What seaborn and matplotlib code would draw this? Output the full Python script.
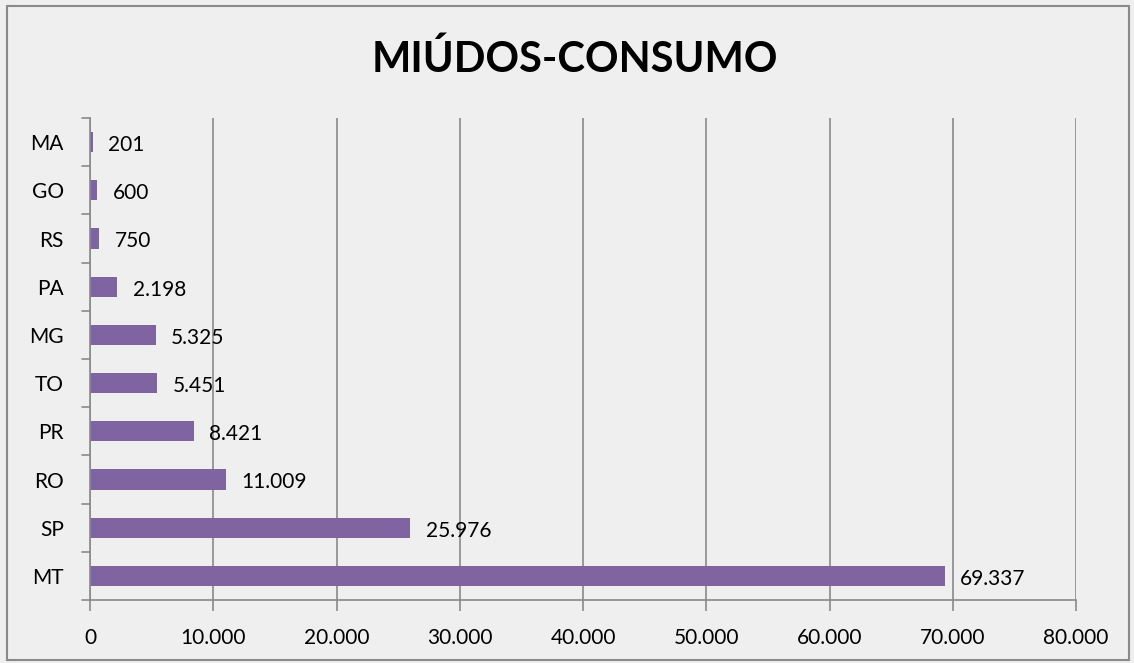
import matplotlib
matplotlib.use("Agg")
import matplotlib.pyplot as plt
import seaborn as sns
import pandas as pd
from matplotlib.patches import Rectangle

estados = ["MA", "GO", "RS", "PA", "MG", "TO", "PR", "RO", "SP", "MT"]
consumo = [201, 600, 750, 2198, 5325, 5451, 8421, 11009, 25976, 69337]
rotulos = ["201", "600", "750", "2.198", "5.325", "5.451", "8.421", "11.009", "25.976", "69.337"]
x_ticks = [0, 10000, 20000, 30000, 40000, 50000, 60000, 70000, 80000]
x_tick_labels = ["0", "10.000", "20.000", "30.000", "40.000", "50.000", "60.000", "70.000", "80.000"]
titulo = "MIÚDOS-CONSUMO"

df = pd.DataFrame({"estado": estados, "consumo": consumo})

sns.set_theme(style="white")
plt.rcParams["font.family"] = ["Lato", "DejaVu Sans"]
plt.rcParams["text.color"] = "black"

bg = "#efefef"
grid_c = "#8a8a8a"
bar_c = "#8064a2"

fig = plt.figure(figsize=(11.34, 6.63), dpi=100, facecolor=bg)
ax = fig.add_axes([0.0794, 0.095, 0.8695, 0.727])
ax.set_facecolor(bg)

sns.barplot(data=df, y="estado", x="consumo", order=estados, color=bar_c,
            saturation=1, width=0.42, ax=ax, edgecolor="none")

ax.set_xlim(0, 80000)
ax.set_ylim(9.5, -0.5)
ax.set_xticks(x_ticks)
ax.set_xticklabels(x_tick_labels, fontsize=15, color="black")
ax.set_yticks(range(len(estados)))
ax.set_yticklabels(estados, fontsize=15, color="black")
ax.set_xlabel("")
ax.set_ylabel("")

ax.xaxis.grid(True, color=grid_c, linewidth=1.2)
ax.set_axisbelow(True)

for s in ["top", "right"]:
    ax.spines[s].set_visible(False)
for s in ["left", "bottom"]:
    ax.spines[s].set_color(grid_c)
    ax.spines[s].set_linewidth(1.2)

# y ticks sit between categories
ax.tick_params(axis="y", length=0, pad=19)
for b in [i - 0.5 for i in range(len(estados) + 1)]:
    ax.plot([-0.0085, 0], [b, b], transform=ax.get_yaxis_transform(),
            color=grid_c, lw=1.2, clip_on=False)
ax.tick_params(axis="x", length=8, width=1.2, color=grid_c, pad=12, direction="out",
               bottom=True)

for i, (v, lbl) in enumerate(zip(consumo, rotulos)):
    ax.text(v + 1250, i + 0.06, lbl, va="center", ha="left", fontsize=15, color="black")

fig.suptitle(titulo, y=0.94, fontsize=30, fontweight="bold", x=0.507, color="black")

fig.patches.append(Rectangle((0.006, 0.004), 0.99, 0.987, transform=fig.transFigure,
                             fill=False, edgecolor="#8a8a8a", linewidth=1.5))

fig.savefig("out.png", dpi=100, facecolor=bg)
